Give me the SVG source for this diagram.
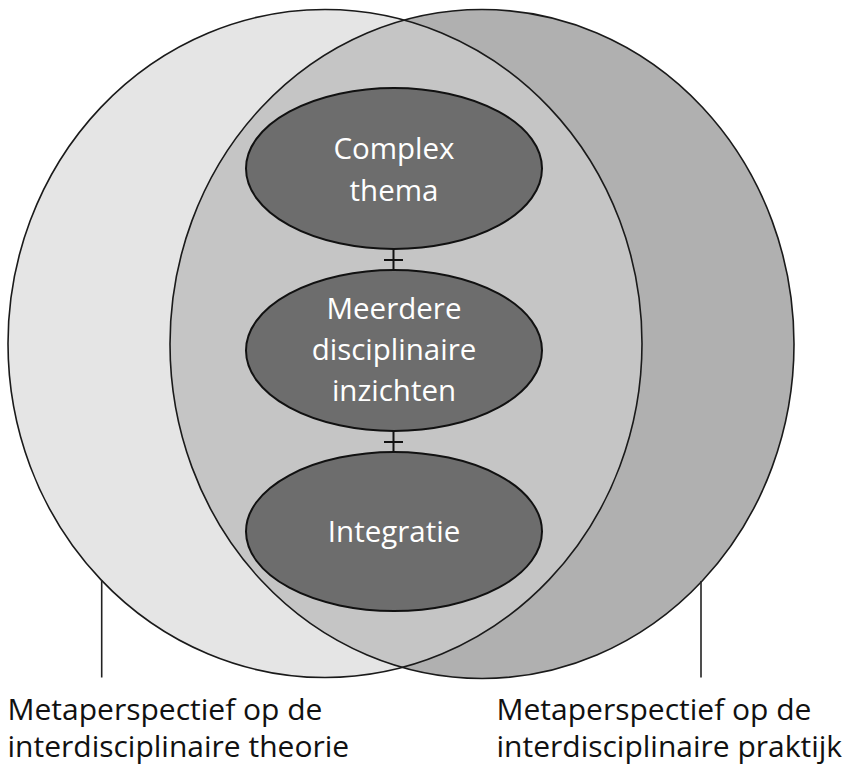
<svg xmlns="http://www.w3.org/2000/svg" width="846" height="766" viewBox="0 0 846 766">
  <style>
    .outline { fill: none; stroke: #1a1a1a; stroke-width: 1.6; }
    .inner { fill: #6d6d6d; stroke: #111; stroke-width: 2; }
    .itext { font-family: "Open Sans", "Noto Sans", sans-serif; font-size: 29.5px; fill: #ffffff; text-anchor: middle; }
    .label { font-family: "Open Sans", "Noto Sans", sans-serif; font-size: 30px; fill: #111111; }
    .conn { stroke: #111; stroke-width: 2; fill: none; }
    .lead { stroke: #222; stroke-width: 1.6; fill: none; }
  </style>
  <defs>
    <clipPath id="clipLeft">
      <ellipse cx="325" cy="343.5" rx="317" ry="334"/>
    </clipPath>
  </defs>
  <rect width="846" height="766" fill="#ffffff"/>

  <g id="circle-theorie">
    <ellipse cx="325" cy="343.5" rx="317" ry="334" fill="#e5e5e5"/>
  </g>
  <g id="circle-praktijk">
    <ellipse cx="482" cy="344" rx="312" ry="334.5" fill="#b0b0b0"/>
  </g>
  <g id="overlap">
    <ellipse cx="482" cy="344" rx="312" ry="334.5" fill="#c5c5c5" clip-path="url(#clipLeft)"/>
    <ellipse class="outline" cx="325" cy="343.5" rx="317" ry="334"/>
    <ellipse class="outline" cx="482" cy="344" rx="312" ry="334.5"/>
  </g>

  <g id="connectors">
    <line class="conn" x1="393.5" y1="249" x2="393.5" y2="270"/>
    <line class="conn" x1="384" y1="260" x2="403" y2="260"/>
    <line class="conn" x1="393.5" y1="431" x2="393.5" y2="452"/>
    <line class="conn" x1="384" y1="442" x2="403" y2="442"/>
    <line class="lead" x1="101.7" y1="580" x2="101.7" y2="677.5"/>
    <line class="lead" x1="701" y1="581" x2="701" y2="677.5"/>
  </g>

  <g id="node-complex-thema">
    <ellipse class="inner" cx="394" cy="168.5" rx="148" ry="80.5"/>
    <text class="itext" x="394" y="158.5">Complex</text>
    <text class="itext" x="394" y="200.5">thema</text>
  </g>
  <g id="node-meerdere">
    <ellipse class="inner" cx="394" cy="350.5" rx="148" ry="80.5"/>
    <text class="itext" x="394" y="319">Meerdere</text>
    <text class="itext" x="394" y="360">disciplinaire</text>
    <text class="itext" x="394" y="401">inzichten</text>
  </g>
  <g id="node-integratie">
    <ellipse class="inner" cx="394" cy="531.5" rx="148" ry="79.5"/>
    <text class="itext" x="394" y="542">Integratie</text>
  </g>

  <g id="label-theorie">
    <text class="label" x="7.5" y="720">Metaperspectief op de</text>
    <text class="label" x="7.5" y="757">interdisciplinaire theorie</text>
  </g>
  <g id="label-praktijk">
    <text class="label" x="496.5" y="720">Metaperspectief op de</text>
    <text class="label" x="496.5" y="757">interdisciplinaire praktijk</text>
  </g>
</svg>
